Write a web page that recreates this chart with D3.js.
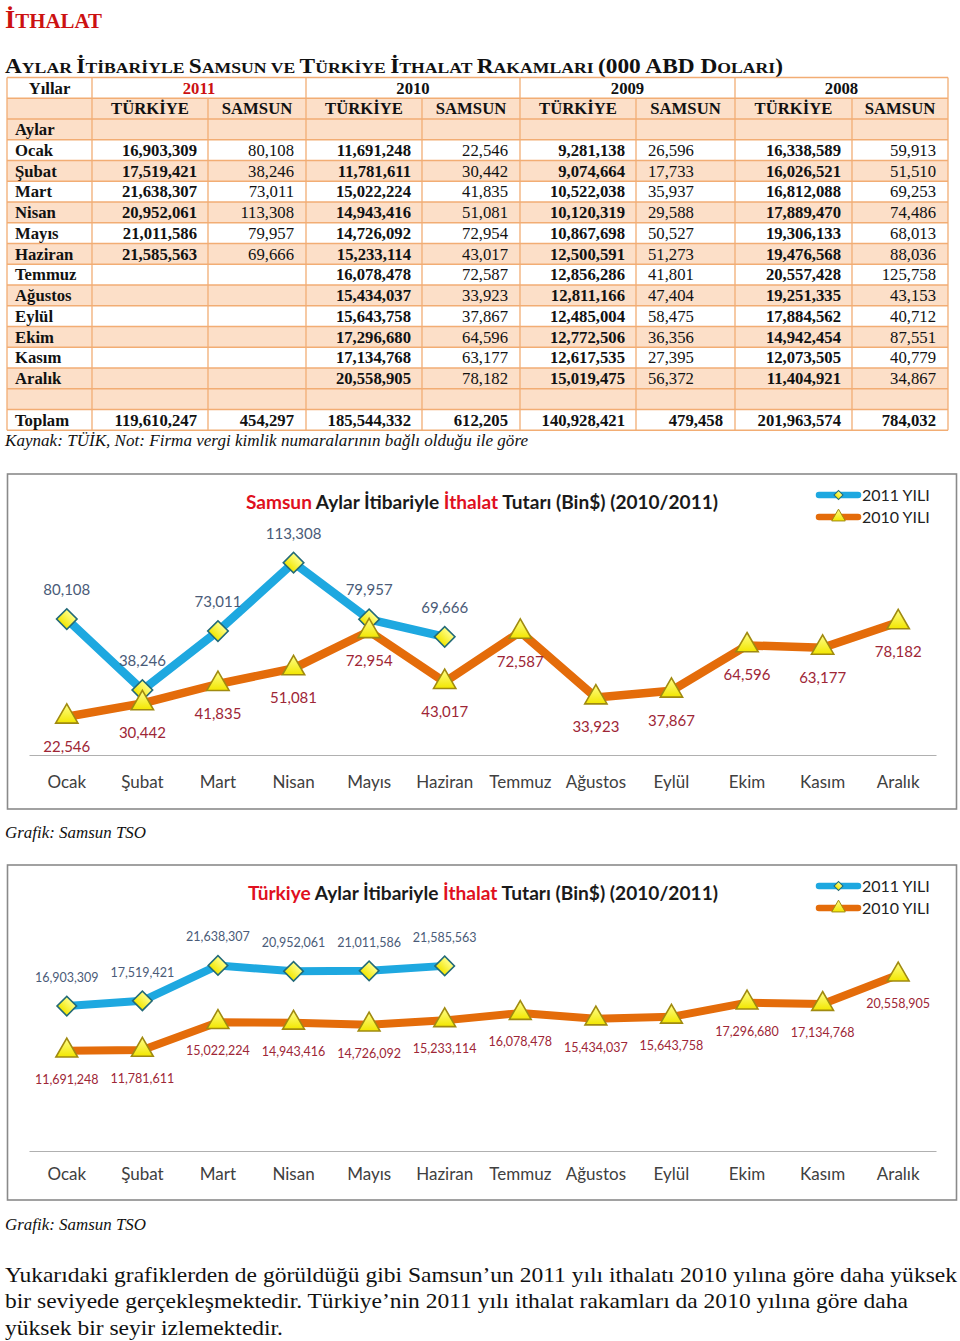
<!DOCTYPE html>
<html><head><meta charset="utf-8">
<script src="https://cdn.jsdelivr.net/npm/d3@7"></script>
<style>body{margin:0;background:#fff} svg{display:block}</style>
</head><body><div id="root"></div>
<script>
// ---------- DATA ----------
const months = ["Ocak","Şubat","Mart","Nisan","Mayıs","Haziran","Temmuz","Ağustos","Eylül","Ekim","Kasım","Aralık"];
const years = ["2011","2010","2009","2008"];
const colHeads = ["TÜRKİYE","SAMSUN"];
const turkiye2011 = [16903309,17519421,21638307,20952061,21011586,21585563,null,null,null,null,null,null];
const samsun2011  = [80108,38246,73011,113308,79957,69666,null,null,null,null,null,null];
const turkiye2010 = [11691248,11781611,15022224,14943416,14726092,15233114,16078478,15434037,15643758,17296680,17134768,20558905];
const samsun2010  = [22546,30442,41835,51081,72954,43017,72587,33923,37867,64596,63177,78182];
const turkiye2009 = [9281138,9074664,10522038,10120319,10867698,12500591,12856286,12811166,12485004,12772506,12617535,15019475];
const samsun2009  = [26596,17733,35937,29588,50527,51273,41801,47404,58475,36356,27395,56372];
const turkiye2008 = [16338589,16026521,16812088,17889470,19306133,19476568,20557428,19251335,17884562,14942454,12073505,11404921];
const samsun2008  = [59913,51510,69253,74486,68013,88036,125758,43153,40712,87551,40779,34867];
const totalsTurkiye = [119610247,185544332,140928421,201963574];
const totalsSamsun  = [454297,612205,479458,784032];
const legendLabels = ["2011 YILI","2010 YILI"];

// ---------- SETUP ----------
const W = 960, H = 1341;
const svg = d3.select("#root").append("svg").attr("width", W).attr("height", H);
const serif = "'Liberation Serif','Times New Roman',serif";
const sans = "Lato,'Open Sans',sans-serif";
const fmt = d3.format(",");

const defs = svg.append("defs");
const grad = defs.append("linearGradient").attr("id","yel").attr("x1",0).attr("y1",0).attr("x2",0).attr("y2",1);
grad.append("stop").attr("offset","0%").attr("stop-color","#ffff8a");
grad.append("stop").attr("offset","100%").attr("stop-color","#f2e600");

// ---------- HEADINGS ----------
const t1 = svg.append("text").attr("x",5).attr("y",28).attr("font-family",serif).attr("font-weight","bold")
  .attr("fill","#cc1111").attr("textLength",97).attr("lengthAdjust","spacingAndGlyphs");
t1.append("tspan").attr("font-size",25).text("İ");
t1.append("tspan").attr("font-size",20).text("THALAT");

const subParts = [["A",1],["YLAR ",0],["İ",1],["TİBARİYLE ",0],["S",1],["AMSUN VE ",0],["T",1],["ÜRKİYE ",0],
  ["İ",1],["THALAT ",0],["R",1],["AKAMLARI ",0],["(000 ABD D",1],["OLARI",0],[")",1]];
const t2 = svg.append("text").attr("x",5).attr("y",73).attr("font-family",serif).attr("font-weight","bold")
  .attr("fill","#111").attr("textLength",778).attr("lengthAdjust","spacingAndGlyphs");
subParts.forEach(p => t2.append("tspan").attr("font-size", p[1] ? 20.5 : 15.5).text(p[0]));

// ---------- TABLE ----------
const colX = [7,92,208,306,422,520,636,735,852,948];
const rowTop = 77.5, rowH = 20.75, nRows = 17;
const peach = "#fcdfc8", bord = "#f2ad74";
const tbl = svg.append("g").attr("font-family",serif).attr("font-size",16.7).attr("fill","#111");
const rowY = i => rowTop + i*rowH;
const isPeach = i => (i===1 || i===2 || i===15 || (i>=3 && i<=14 && (i-3)%2===1));
for (let i=0;i<nRows;i++){
  tbl.append("rect").attr("x",colX[0]).attr("y",rowY(i)).attr("width",colX[9]-colX[0]).attr("height",rowH)
    .attr("fill", isPeach(i) ? peach : "#fff");
}
for (let i=0;i<=nRows;i++){
  tbl.append("line").attr("x1",colX[0]).attr("x2",colX[9]).attr("y1",rowY(i)).attr("y2",rowY(i))
    .attr("stroke",bord).attr("stroke-width",1.3);
}
colX.forEach((cx,k)=>{
  const full = [0,1,3,5,7,9].includes(k);
  tbl.append("line").attr("x1",cx).attr("x2",cx).attr("y1", full ? rowY(0) : rowY(1)).attr("y2",rowY(nRows))
    .attr("stroke",bord).attr("stroke-width",1.3);
});
const base = i => rowY(i) + 16;
tbl.append("text").attr("x",(colX[0]+colX[1])/2).attr("y",base(0)).attr("text-anchor","middle").attr("font-weight","bold").text("Yıllar");
years.forEach((yr,k)=>{
  tbl.append("text").attr("x",(colX[1+2*k]+colX[3+2*k])/2).attr("y",base(0)).attr("text-anchor","middle")
    .attr("font-weight","bold").attr("fill", k===0 ? "#cc1111" : "#111").text(yr);
  colHeads.forEach((h,j)=>{
    tbl.append("text").attr("x",(colX[1+2*k+j]+colX[2+2*k+j])/2).attr("y",base(1)).attr("text-anchor","middle")
      .attr("font-weight","bold").text(h);
  });
});
tbl.append("text").attr("x",15).attr("y",base(2)).attr("font-weight","bold").text("Aylar");
const tSeries = [turkiye2011,turkiye2010,turkiye2009,turkiye2008];
const sSeries = [samsun2011,samsun2010,samsun2009,samsun2008];
months.forEach((m,mi)=>{
  const r = 3+mi;
  tbl.append("text").attr("x",15).attr("y",base(r)).attr("font-weight","bold").text(m);
  years.forEach((yr,k)=>{
    const tv = tSeries[k][mi], sv = sSeries[k][mi];
    if (tv!=null) tbl.append("text").attr("x",colX[2+2*k]-11).attr("y",base(r)).attr("text-anchor","end")
      .attr("font-weight","bold").text(fmt(tv));
    if (sv!=null){
      const left = (k===2);
      tbl.append("text").attr("x", left ? colX[2+2*k]+12 : colX[3+2*k]-12).attr("y",base(r))
        .attr("text-anchor", left ? "start" : "end").text(fmt(sv));
    }
  });
});
tbl.append("text").attr("x",15).attr("y",base(16)).attr("font-weight","bold").text("Toplam");
years.forEach((yr,k)=>{
  tbl.append("text").attr("x",colX[2+2*k]-11).attr("y",base(16)).attr("text-anchor","end").attr("font-weight","bold").text(fmt(totalsTurkiye[k]));
  tbl.append("text").attr("x",colX[3+2*k]-12).attr("y",base(16)).attr("text-anchor","end").attr("font-weight","bold").text(fmt(totalsSamsun[k]));
});
svg.append("text").attr("x",5).attr("y",446).attr("font-family",serif).attr("font-style","italic").attr("font-size",16.5)
  .attr("fill","#111").attr("textLength",523).attr("lengthAdjust","spacingAndGlyphs")
  .text("Kaynak: TÜİK, Not: Firma vergi kimlik numaralarının bağlı olduğu ile göre");

// ---------- CHARTS ----------
function chart(o){
  const g = svg.append("g");
  g.append("rect").attr("x",7.5).attr("y",o.top).attr("width",949).attr("height",o.bottom-o.top)
    .attr("fill","#fff").attr("stroke","#8a8a8a").attr("stroke-width",1.6);
  const x = d3.scaleBand().domain(months).range([29,936]);
  const cx = m => x(m) + x.bandwidth()/2;
  const y = d3.scaleLinear().domain(o.domain).range(o.range);

  const ax = g.append("g").attr("transform",`translate(0,${y(0)})`).call(d3.axisBottom(x).tickSize(0));
  ax.select(".domain").attr("stroke","#b0b0b0").attr("stroke-width",1.2);
  ax.selectAll("text").attr("font-family",sans).attr("font-size",17).attr("fill","#404040")
    .attr("y",o.tickY).attr("dy",0);

  // title
  const tt = g.append("text").attr("x",o.titleX).attr("y",o.titleY).attr("font-family",sans).attr("font-weight","bold")
    .attr("font-size",19).attr("textLength",o.titleW).attr("lengthAdjust","spacingAndGlyphs");
  o.title.forEach(p => tt.append("tspan").attr("fill",p[1]).text(p[0]));

  const series = [
    {vals:o.s2011, color:"#1ea8e0", marker:"diamond", lab:"#4a5b78", dy:o.dyUp},
    {vals:o.s2010, color:"#e46c0a", marker:"tri", lab:"#9e2636", dy:o.dyDown}
  ];
  const line = d3.line().x(d=>cx(d.m)).y(d=>y(d.v));
  const diamond = d3.symbol(d3.symbolSquare, o.dSize);
  const tri = d3.symbol(d3.symbolTriangle, o.tSize);
  series.forEach(s=>{
    s.data = months.map((m,i)=>({m, v:s.vals[i]})).filter(d=>d.v!=null);
    g.append("path").datum(s.data).attr("d",line).attr("fill","none").attr("stroke",s.color)
      .attr("stroke-width",o.lw).attr("stroke-linejoin","round").attr("stroke-linecap","round");
    g.selectAll(null).data(s.data).join("path")
      .attr("d", s.marker==="diamond" ? diamond : tri)
      .attr("transform", d=>`translate(${cx(d.m)},${y(d.v)})` + (s.marker==="diamond" ? " rotate(45)" : ""))
      .attr("fill","url(#yel)").attr("stroke", s.marker==="diamond" ? "#236a78" : "#a08a10").attr("stroke-width",1.6);
  });
  series.forEach(s=>{
    g.selectAll(null).data(s.data).join("text")
      .attr("x",d=>cx(d.m)).attr("y",d=>y(d.v)+s.dy).attr("text-anchor","middle")
      .attr("font-family",sans).attr("font-size",o.labSize).attr("fill",s.lab).text(d=>fmt(d.v));
  });

  // legend
  series.forEach((s,i)=>{
    const ly = o.legY + i*22;
    g.append("line").attr("x1",819).attr("x2",858).attr("y1",ly).attr("y2",ly).attr("stroke",s.color)
      .attr("stroke-width",6.5).attr("stroke-linecap","round");
    g.append("path").attr("d", s.marker==="diamond" ? d3.symbol(d3.symbolSquare,40)() : d3.symbol(d3.symbolTriangle,80)())
      .attr("transform",`translate(838.5,${ly})` + (s.marker==="diamond" ? " rotate(45)" : ""))
      .attr("fill","url(#yel)").attr("stroke", s.marker==="diamond" ? "#236a78" : "#a08a10").attr("stroke-width",1);
    g.append("text").attr("x",862).attr("y",ly+6).attr("font-family",sans).attr("font-size",16)
      .attr("fill","#222").text(legendLabels[i]);
  });
}

chart({top:474, bottom:809, domain:[0,140000], range:[755, 755-140*1.697],
  s2011:samsun2011, s2010:samsun2010, tickY:33,
  title:[["Samsun","#e0101e"],[" Aylar İtibariyle ","#1a1a1a"],["İthalat","#e0101e"],[" Tutarı (Bin$) (2010/2011)","#1a1a1a"]],
  titleX:246, titleY:509, titleW:472, lw:8.5, dSize:210, tSize:215, labSize:15, dyUp:-24, dyDown:35, legY:495});

chart({top:865, bottom:1200, domain:[0,25e6], range:[1151, 1151-25*8.576],
  s2011:turkiye2011, s2010:turkiye2010, tickY:29,
  title:[["Türkiye","#e0101e"],[" Aylar İtibariyle ","#1a1a1a"],["İthalat","#e0101e"],[" Tutarı (Bin$) (2010/2011)","#1a1a1a"]],
  titleX:248, titleY:900, titleW:470, lw:8, dSize:190, tSize:205, labSize:12.5, dyUp:-24, dyDown:33, legY:886});

// ---------- CAPTIONS & TEXT ----------
[838,1230].forEach(yy=>{
  svg.append("text").attr("x",5).attr("y",yy).attr("font-family",serif).attr("font-style","italic").attr("font-size",17)
    .attr("fill","#111").attr("textLength",141).attr("lengthAdjust","spacingAndGlyphs").text("Grafik: Samsun TSO");
});
const para = [
  ["Yukarıdaki grafiklerden de görüldüğü gibi Samsun’un 2011 yılı ithalatı 2010 yılına göre daha yüksek", 952, 1282],
  ["bir seviyede gerçekleşmektedir. Türkiye’nin 2011 yılı ithalat rakamları da 2010 yılına göre daha", 903, 1308],
  ["yüksek bir seyir izlemektedir.", 278, 1335]
];
para.forEach(p=>{
  svg.append("text").attr("x",5).attr("y",p[2]).attr("font-family",serif).attr("font-size",22).attr("fill","#111")
    .attr("textLength",p[1]).attr("lengthAdjust","spacingAndGlyphs").text(p[0]);
});
</script>
</body></html>
